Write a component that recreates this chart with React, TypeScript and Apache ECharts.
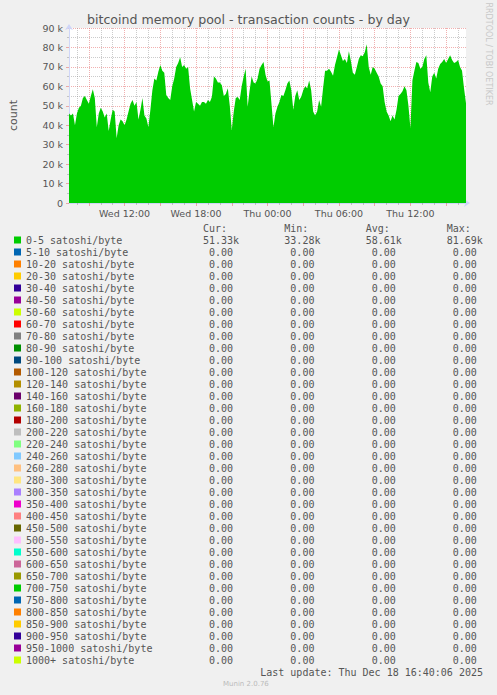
import { useEffect, useRef } from 'react';
import * as echarts from 'echarts';

// one reading every 10 minutes, Wed 07:20 -> Thu 16:40 (minutes since Wed 00:00)
const START_MINUTE = 440;
const STEP_MINUTES = 10;

// 0-5 satoshi/byte transaction counts
const lowFeeCounts = [
  46000, 45000, 46000, 40000, 46000, 49000, 50000, 54000, 55000, 53000,
  51000, 55000, 58500, 54000, 39000, 46000, 49000, 47000, 44000, 46000,
  37000, 43000, 48000, 47000, 33300, 40000, 43000, 42000, 40000, 43000,
  47000, 51000, 53000, 50000, 52000, 43000, 48000, 54000, 45000, 43500,
  39000, 48000, 58000, 64000, 63000, 67500, 71000, 68000, 67000, 55500,
  54000, 53000, 60000, 64000, 70000, 72000, 75000, 70000, 71000, 69000,
  70000, 59000, 53000, 47000, 52000, 51000, 50000, 52000, 52000, 51000,
  53000, 52000, 54700, 65000, 64000, 62000, 62000, 60500, 55000, 56000,
  59000, 50000, 37500, 47000, 54000, 54500, 53000, 60000, 65000, 69000,
  49500, 58000, 65000, 62000, 61500, 64000, 69000, 71000, 72500, 66000,
  62500, 63000, 51000, 39000, 46000, 49500, 52000, 55500, 55000, 58000,
  61500, 63000, 58000, 48000, 55000, 58000, 53000, 54700, 58000, 60000,
  59000, 63000, 58000, 47000, 45000, 47000, 53000, 49500, 59000, 68000,
  68000, 69000, 67500, 65500, 71000, 75000, 79000, 76000, 73000, 74000,
  72000, 78000, 73000, 67000, 66000, 70000, 74000, 76000, 75500, 77500,
  81690, 70000, 66000, 70000, 69000, 67000, 65000, 61500, 60000, 52000,
  47000, 45000, 42000, 45000, 43000, 48000, 55000, 56000, 57500, 60000,
  58000, 50000, 38500, 63000, 68000, 72500, 72000, 69000, 70000, 74000,
  76000, 62000, 57000, 65000, 67000, 64000, 69000, 71500, 72500, 74000,
  72000, 74000, 76000, 73500, 72000, 72500, 73500, 70000, 68000, 59000,
  51330,
];

const bandNames = [
  '0-5 satoshi/byte', '5-10 satoshi/byte', '10-20 satoshi/byte', '20-30 satoshi/byte',
  '30-40 satoshi/byte', '40-50 satoshi/byte', '50-60 satoshi/byte', '60-70 satoshi/byte',
  '70-80 satoshi/byte', '80-90 satoshi/byte', '90-100 satoshi/byte', '100-120 satoshi/byte',
  '120-140 satoshi/byte', '140-160 satoshi/byte', '160-180 satoshi/byte', '180-200 satoshi/byte',
  '200-220 satoshi/byte', '220-240 satoshi/byte', '240-260 satoshi/byte', '260-280 satoshi/byte',
  '280-300 satoshi/byte', '300-350 satoshi/byte', '350-400 satoshi/byte', '400-450 satoshi/byte',
  '450-500 satoshi/byte', '500-550 satoshi/byte', '550-600 satoshi/byte', '600-650 satoshi/byte',
  '650-700 satoshi/byte', '700-750 satoshi/byte', '750-800 satoshi/byte', '800-850 satoshi/byte',
  '850-900 satoshi/byte', '900-950 satoshi/byte', '950-1000 satoshi/byte', '1000+ satoshi/byte',
];

const bandColors = [
  '#00CC00', '#0066B3', '#FF8000', '#FFCC00', '#330099', '#990099', '#CCFF00', '#FF0000',
  '#808080', '#008F00', '#00487D', '#B35A00', '#B38F00', '#6B006B', '#8FB300', '#B30000',
  '#BEBEBE', '#80FF80', '#80C9FF', '#FFC080', '#FFE680', '#AA80FF', '#EE00CC', '#FF8080',
  '#666600', '#FFBFFF', '#00FFCC', '#CC6699', '#999900', '#00CC00', '#0066B3', '#FF8000',
  '#FFCC00', '#330099', '#990099', '#CCFF00',
];

const statHeaders = ['Cur:', 'Min:', 'Avg:', 'Max:'];
// cur, min, avg, max of the 0-5 band; every other band reads 0.00
const lowFeeStats = [51330, 33280, 58610, 81690];

const FONT = 'DejaVu Sans';
const MONO = 'DejaVu Sans Mono';
const TEXT = '#555555';
const AXIS = '#CFD6F8';
const GRID = 'rgba(140,140,140,0.45)';
const MGRID = 'rgba(224,80,80,0.45)';

const minuteLabel = (m: number) => {
  const day = m >= 1440 ? 'Thu' : 'Wed';
  const t = m % 1440;
  const hh = String(Math.floor(t / 60)).padStart(2, '0');
  const mm = String(t % 60).padStart(2, '0');
  return `${day} ${hh}:${mm}`;
};

const timeLabels = lowFeeCounts.map((_, i) => minuteLabel(START_MINUTE + i * STEP_MINUTES));
const minuteAt = (i: number) => START_MINUTE + i * STEP_MINUTES;

const fmtStat = (v: number) => {
  const s = v >= 1000 ? (v / 1000).toFixed(2) + 'k' : v.toFixed(2) + ' ';
  return s.padStart(7, ' ').replace(/ /g, '\u00a0');
};

export default function App() {
  const chartRef = useRef<HTMLDivElement>(null);

  useEffect(() => {
    if (!chartRef.current) return;
    const chart = echarts.init(chartRef.current, null, { renderer: 'svg' });

    const statCell = { fontFamily: MONO, fontSize: 10, color: TEXT };

    chart.setOption({
      animation: false,
      backgroundColor: '#F0F0F0',
      title: {
        text: 'bitcoind memory pool - transaction counts - by day',
        left: 'center',
        top: 12,
        padding: 0,
        textStyle: { fontFamily: FONT, fontSize: 12.6, fontWeight: 'normal', color: TEXT, lineHeight: 14 },
      },
      grid: {
        left: 66,
        top: 28,
        width: 400,
        height: 175,
        show: true,
        backgroundColor: '#FFFFFF',
        borderWidth: 0,
      },
      legend: {
        orient: 'vertical',
        left: 14,
        top: 235,
        padding: 0,
        itemGap: 2,
        itemWidth: 7,
        itemHeight: 7,
        icon: 'rect',
        selectedMode: false,
        data: bandNames,
        formatter: (name: string) => {
          const i = bandNames.indexOf(name);
          const st = i === 0 ? lowFeeStats : [0, 0, 0, 0];
          return `{n|${name}}{c|${fmtStat(st[0])}}{m|${fmtStat(st[1])}}{a|${fmtStat(st[2])}}{x|${fmtStat(st[3])}}`;
        },
        textStyle: {
          fontFamily: MONO,
          fontSize: 10,
          color: TEXT,
          rich: {
            n: { ...statCell, width: 171 },
            c: { ...statCell, width: 81.3 },
            m: { ...statCell, width: 81.4 },
            a: { ...statCell, width: 81 },
            x: { ...statCell },
          },
        },
      },
      xAxis: [
        {
          type: 'category',
          position: 'bottom',
          boundaryGap: false,
          data: timeLabels,
          z: 0,
          axisLine: {
            show: true,
            lineStyle: { color: AXIS, width: 1 },
            symbol: ['none', 'arrow'],
            symbolSize: [6, 6],
            symbolOffset: [0, 4],
          },
          axisTick: {
            show: true,
            length: 2,
            interval: (i: number) => minuteAt(i) % 60 === 0 && minuteAt(i) % 180 !== 0,
            lineStyle: { color: GRID },
          },
          axisLabel: {
            interval: (i: number) => minuteAt(i) % 360 === 0,
            margin: 5,
            fontFamily: FONT,
            fontSize: 9.5,
            color: TEXT,
          },
          splitLine: {
            show: true,
            interval: (i: number) => minuteAt(i) % 60 === 0 && minuteAt(i) % 180 !== 0,
            lineStyle: { color: GRID, type: [1, 1], width: 1 },
          },
        },
        {
          type: 'category',
          position: 'bottom',
          boundaryGap: false,
          data: timeLabels,
          z: 0,
          axisLine: { show: false },
          axisLabel: { show: false },
          axisTick: {
            show: true,
            length: 3,
            interval: (i: number) => minuteAt(i) % 180 === 0,
            lineStyle: { color: MGRID },
          },
          splitLine: {
            show: true,
            interval: (i: number) => minuteAt(i) % 180 === 0,
            lineStyle: { color: MGRID, type: [1, 1], width: 1 },
          },
        },
      ],
      yAxis: {
        type: 'value',
        min: 0,
        max: 90000,
        interval: 10000,
        z: 0,
        name: 'count',
        nameLocation: 'middle',
        nameRotate: 90,
        nameGap: 50,
        nameTextStyle: { fontFamily: FONT, fontSize: 11, color: TEXT },
        axisLine: {
          show: true,
          lineStyle: { color: AXIS, width: 1 },
          symbol: ['none', 'arrow'],
          symbolSize: [6, 6],
          symbolOffset: [0, 4],
        },
        axisTick: { show: true, length: 3, lineStyle: { color: MGRID } },
        minorTick: { show: true, splitNumber: 2, length: 2, lineStyle: { color: GRID } },
        axisLabel: {
          margin: 6,
          fontFamily: FONT,
          fontSize: 9.5,
          color: TEXT,
          formatter: (v: number) => (v === 0 ? '0' : `${v / 1000} k`),
        },
        splitLine: { show: true, lineStyle: { color: MGRID, type: [1, 1], width: 1 } },
        minorSplitLine: { show: true, lineStyle: { color: GRID, type: [1, 1], width: 1 } },
      },
      graphic: [
        ...statHeaders.map((h, i) => ({
          type: 'text',
          x: [203, 284.3, 365.7, 446.7][i],
          y: 228,
          style: {
            text: h,
            font: `10px "${MONO}"`,
            fill: TEXT,
            verticalAlign: 'middle',
            textVerticalAlign: 'middle',
          },
        })),
        {
          type: 'text',
          x: 488,
          y: 54,
          rotation: -Math.PI / 2,
          style: {
            text: 'RRDTOOL / TOBI OETIKER',
            font: `8px "${FONT}"`,
            fill: '#C8C8C8',
            align: 'center',
            textAlign: 'center',
            verticalAlign: 'middle',
            textVerticalAlign: 'middle',
          },
        },
        {
          type: 'text',
          x: 483,
          y: 672,
          style: {
            text: 'Last update: Thu Dec 18 16:40:06 2025',
            font: `10px "${MONO}"`,
            fill: TEXT,
            align: 'right',
            textAlign: 'right',
            verticalAlign: 'middle',
            textVerticalAlign: 'middle',
          },
        },
        {
          type: 'text',
          x: 223,
          y: 684,
          style: {
            text: 'Munin 2.0.76',
            font: `7px "${FONT}"`,
            fill: '#BBBBBB',
            verticalAlign: 'middle',
            textVerticalAlign: 'middle',
          },
        },
      ],
      series: bandNames.map((name, i) => ({
        name,
        type: 'line',
        color: bandColors[i],
        data: i === 0 ? lowFeeCounts : [],
        stack: 'fee',
        symbol: 'none',
        showSymbol: false,
        silent: true,
        z: 2,
        lineStyle: { width: 0, color: bandColors[i] },
        areaStyle: { color: bandColors[i], opacity: 1 },
      })),
    });

    return () => {
      chart.dispose();
    };
  }, []);

  return (
    <div
      ref={chartRef}
      style={{ position: 'absolute', left: 0, top: 0, width: 497, height: 695 }}
    />
  );
}
